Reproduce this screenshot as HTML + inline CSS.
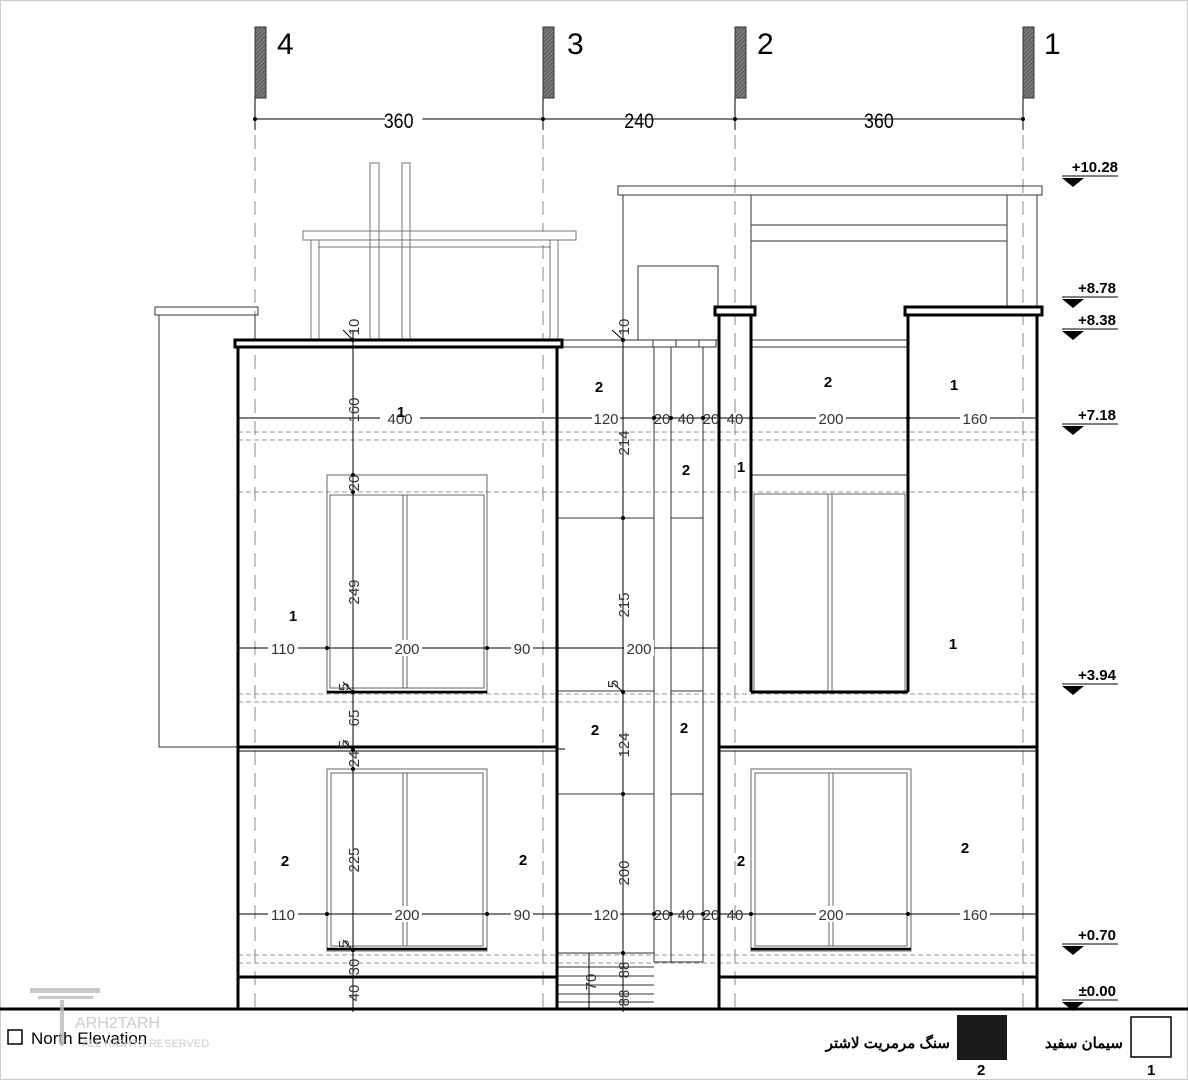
<!DOCTYPE html>
<html><head><meta charset="utf-8"><style>
body{margin:0;background:#fff}
svg{display:block}
text{font-family:"Liberation Sans",sans-serif}
.d{font-size:15px;fill:#333}
.n{font-size:15px;font-weight:bold;fill:#000}
.lv{font-size:15px;font-weight:bold;fill:#000}
</style></head><body>
<svg width="1188" height="1080" viewBox="0 0 1188 1080" xmlns="http://www.w3.org/2000/svg">
<defs>
<pattern id="h" width="3" height="3" patternUnits="userSpaceOnUse" patternTransform="rotate(45)"><rect width="3" height="3" fill="#777"/><line x1="0" y1="0" x2="0" y2="3" stroke="#444" stroke-width="1"/></pattern>
</defs>
<rect width="1188" height="1080" fill="#fff"/>
<rect x="0.5" y="0.5" width="1187" height="1079" fill="none" stroke="#ccc"/>
<g stroke="#333">
<rect x="255" y="27" width="11" height="71" fill="url(#h)"/>
<rect x="543" y="27" width="11" height="71" fill="url(#h)"/>
<rect x="735" y="27" width="11" height="71" fill="url(#h)"/>
<rect x="1023" y="27" width="11" height="71" fill="url(#h)"/>
</g>
<g font-size="30" fill="#000"><text x="277" y="54">4</text><text x="567" y="54">3</text><text x="757" y="54">2</text><text x="1044" y="54">1</text></g>
<g stroke="#000" stroke-width="1"><line x1="255" y1="119" x2="1023" y2="119"/>
<line x1="255" y1="98" x2="255" y2="130"/><line x1="543" y1="98" x2="543" y2="130"/><line x1="735" y1="98" x2="735" y2="130"/><line x1="1023" y1="98" x2="1023" y2="130"/></g>
<g fill="#000"><circle cx="255" cy="119" r="2"/><circle cx="543" cy="119" r="2"/><circle cx="735" cy="119" r="2"/><circle cx="1023" cy="119" r="2"/></g>
<g font-size="21" fill="#000" text-anchor="middle" transform="scale(0.85,1)">
<rect x="453" y="108" width="44" height="22" fill="#fff"/><text x="469" y="128">360</text>
<text x="752" y="128">240</text><text x="1034" y="128">360</text></g>
<g stroke="#888" stroke-dasharray="14,8" stroke-width="1">
<line x1="255" y1="135" x2="255" y2="1009"/><line x1="543" y1="135" x2="543" y2="1009"/><line x1="735" y1="135" x2="735" y2="1009"/><line x1="1023" y1="135" x2="1023" y2="1009"/></g>
<g stroke="#999" stroke-dasharray="5,3" stroke-width="1">
<line x1="238" y1="432" x2="1037" y2="432"/><line x1="238" y1="440" x2="1037" y2="440"/>
<line x1="238" y1="492" x2="1037" y2="492"/>
<line x1="238" y1="694" x2="1037" y2="694"/><line x1="238" y1="702" x2="1037" y2="702"/>
<line x1="238" y1="955" x2="1037" y2="955"/><line x1="238" y1="963" x2="1037" y2="963"/>
</g>
<g stroke="#777" fill="none" stroke-width="1">
<rect x="303" y="231" width="273" height="9" fill="#fff"/>
<line x1="318" y1="247" x2="551" y2="247"/>
<rect x="311" y="240" width="8" height="100"/><rect x="550" y="240" width="8" height="100"/>
<rect x="370" y="163" width="9" height="177"/><rect x="402" y="163" width="8" height="177"/>
</g>
<g stroke="#333" fill="none" stroke-width="1">
<rect x="155" y="307" width="103" height="8"/>
<polyline points="159,315 159,747 238,747"/><line x1="255" y1="315" x2="255" y2="340"/>
</g>
<g stroke="#333" fill="none" stroke-width="1">
<rect x="618" y="186" width="424" height="9"/>
<line x1="623" y1="195" x2="623" y2="340"/>
<rect x="638" y="266" width="80" height="74"/>
<line x1="751" y1="195" x2="751" y2="306"/><line x1="1007" y1="195" x2="1007" y2="306"/>
<line x1="751" y1="225" x2="1007" y2="225"/><line x1="751" y1="241" x2="1007" y2="241"/>
<line x1="1037" y1="195" x2="1037" y2="306"/>
</g>
<g stroke="#333" fill="none" stroke-width="1">
<rect x="557" y="340" width="159" height="7"/>
<line x1="653" y1="340" x2="653" y2="347"/><line x1="676" y1="340" x2="676" y2="347"/><line x1="699" y1="340" x2="699" y2="347"/>
<line x1="654" y1="347" x2="654" y2="962"/><line x1="671" y1="347" x2="671" y2="962"/><line x1="703" y1="347" x2="703" y2="962"/>
<line x1="654" y1="962" x2="703" y2="962"/>
<line x1="557" y1="518" x2="654" y2="518"/><line x1="671" y1="518" x2="703" y2="518"/>
<line x1="557" y1="691" x2="654" y2="691"/><line x1="671" y1="691" x2="703" y2="691"/>
<line x1="557" y1="794" x2="654" y2="794"/><line x1="671" y1="794" x2="703" y2="794"/>
<line x1="557" y1="953" x2="654" y2="953"/>
<line x1="557" y1="967" x2="654" y2="967"/><line x1="557" y1="976" x2="654" y2="976"/><line x1="557" y1="985" x2="654" y2="985"/><line x1="557" y1="994" x2="654" y2="994"/><line x1="557" y1="1002" x2="654" y2="1002"/>
<line x1="751" y1="340" x2="908" y2="340"/><line x1="751" y1="347" x2="908" y2="347"/>
<line x1="751" y1="475" x2="908" y2="475"/>
</g>
<g stroke="#666" fill="none" stroke-width="1">
<rect x="327" y="475" width="160" height="218"/><rect x="330" y="495" width="154" height="193"/>
<line x1="403" y1="495" x2="403" y2="688"/><line x1="407" y1="495" x2="407" y2="688"/>
<rect x="327" y="769" width="160" height="182"/><rect x="331" y="773" width="152" height="173"/>
<line x1="403" y1="773" x2="403" y2="946"/><line x1="407" y1="773" x2="407" y2="946"/>
<rect x="754" y="494" width="151" height="197"/>
<line x1="828" y1="494" x2="828" y2="691"/><line x1="832" y1="494" x2="832" y2="691"/>
<rect x="751" y="769" width="160" height="182"/><rect x="755" y="773" width="152" height="173"/>
<line x1="829" y1="773" x2="829" y2="946"/><line x1="833" y1="773" x2="833" y2="946"/>
</g>
<g stroke="#000" stroke-width="2.5"><line x1="327" y1="692" x2="487" y2="692"/><line x1="327" y1="949" x2="487" y2="949"/><line x1="751" y1="949" x2="911" y2="949"/></g>
<g stroke="#000" stroke-width="3" fill="none">
<rect x="235" y="340" width="327" height="7" fill="#fff"/>
<polyline points="238,347 238,1009"/><polyline points="557,347 557,1009"/>
<line x1="238" y1="747" x2="557" y2="747"/><line x1="238" y1="977" x2="557" y2="977"/>
<rect x="715" y="307" width="40" height="8" fill="#fff"/>
<line x1="719" y1="315" x2="719" y2="1009"/><line x1="751" y1="315" x2="751" y2="692"/>
<line x1="751" y1="692" x2="908" y2="692"/><line x1="908" y1="315" x2="908" y2="692"/>
<rect x="905" y="307" width="137" height="8" fill="#fff"/>
<line x1="1037" y1="315" x2="1037" y2="1009"/>
<line x1="719" y1="747" x2="1037" y2="747"/><line x1="719" y1="977" x2="1037" y2="977"/>
<line x1="0" y1="1009" x2="1188" y2="1009"/>
</g>
<g stroke="#000" stroke-width="1"><line x1="238" y1="751" x2="557" y2="751"/><line x1="719" y1="751" x2="1037" y2="751"/><line x1="557" y1="749" x2="565" y2="749"/></g>
<g stroke="#000" stroke-width="1">
<line x1="238" y1="418" x2="1037" y2="418"/>
<line x1="238" y1="648" x2="719" y2="648"/>
<line x1="238" y1="914" x2="1037" y2="914"/>
<line x1="353" y1="330" x2="353" y2="1012"/>
<line x1="623" y1="330" x2="623" y2="1012"/>
<line x1="589" y1="953" x2="589" y2="1009"/>
<line x1="343" y1="330" x2="353" y2="340"/><line x1="612" y1="330" x2="623" y2="340"/>
<line x1="343" y1="682" x2="353" y2="692"/><line x1="612" y1="682" x2="623" y2="692"/>
<line x1="343" y1="740" x2="353" y2="750"/><line x1="343" y1="940" x2="353" y2="950"/>
</g>
<g fill="#000">
<circle cx="353" cy="340" r="2"/><circle cx="353" cy="475" r="2"/><circle cx="353" cy="492" r="2"/><circle cx="353" cy="692" r="2"/><circle cx="353" cy="750" r="2"/><circle cx="353" cy="769" r="2"/><circle cx="353" cy="950" r="2"/>
<circle cx="623" cy="340" r="2"/><circle cx="623" cy="518" r="2"/><circle cx="623" cy="692" r="2"/><circle cx="623" cy="794" r="2"/><circle cx="623" cy="953" r="2"/>
<circle cx="327" cy="648" r="2"/><circle cx="487" cy="648" r="2"/><circle cx="557" cy="648" r="2"/>
<circle cx="327" cy="914" r="2"/><circle cx="487" cy="914" r="2"/><circle cx="557" cy="914" r="2"/><circle cx="654" cy="914" r="2"/><circle cx="671" cy="914" r="2"/><circle cx="703" cy="914" r="2"/><circle cx="751" cy="914" r="2"/><circle cx="829" cy="914" r="2"/><circle cx="908" cy="914" r="2"/>
<circle cx="654" cy="418" r="2"/><circle cx="671" cy="418" r="2"/><circle cx="703" cy="418" r="2"/><circle cx="751" cy="418" r="2"/><circle cx="908" cy="418" r="2"/>
</g>
<g class="d" text-anchor="middle">
<rect x="380" y="410" width="40" height="16" fill="#fff"/><text x="400" y="424">400</text>
<rect x="592" y="410" width="28" height="16" fill="#fff"/><text x="606" y="424">120</text>
<text x="662" y="424">20</text><text x="686" y="424">40</text><text x="711" y="424">20</text><text x="735" y="424">40</text>
<rect x="816" y="410" width="30" height="16" fill="#fff"/><text x="831" y="424">200</text>
<rect x="960" y="410" width="30" height="16" fill="#fff"/><text x="975" y="424">160</text>
<rect x="268" y="640" width="30" height="16" fill="#fff"/><text x="283" y="654">110</text>
<rect x="392" y="640" width="30" height="16" fill="#fff"/><text x="407" y="654">200</text>
<rect x="511" y="640" width="22" height="16" fill="#fff"/><text x="522" y="654">90</text>
<rect x="624" y="640" width="30" height="16" fill="#fff"/><text x="639" y="654">200</text>
<rect x="268" y="906" width="30" height="16" fill="#fff"/><text x="283" y="920">110</text>
<rect x="392" y="906" width="30" height="16" fill="#fff"/><text x="407" y="920">200</text>
<rect x="511" y="906" width="22" height="16" fill="#fff"/><text x="522" y="920">90</text>
<rect x="592" y="906" width="28" height="16" fill="#fff"/><text x="606" y="920">120</text>
<text x="662" y="920">20</text><text x="686" y="920">40</text><text x="711" y="920">20</text><text x="735" y="920">40</text>
<rect x="816" y="906" width="30" height="16" fill="#fff"/><text x="831" y="920">200</text>
<rect x="960" y="906" width="30" height="16" fill="#fff"/><text x="975" y="920">160</text>
</g>
<g class="d" text-anchor="middle">
<text transform="translate(359,327) rotate(-90)">10</text>
<text transform="translate(359,410) rotate(-90)">160</text>
<text transform="translate(359,483) rotate(-90)">20</text>
<text transform="translate(359,592) rotate(-90)">249</text>
<text transform="translate(359,718) rotate(-90)">65</text>
<text transform="translate(359,759) rotate(-90)">24</text>
<text transform="translate(359,860) rotate(-90)">225</text>
<text transform="translate(359,967) rotate(-90)">30</text>
<text transform="translate(359,993) rotate(-90)">40</text>
<text transform="translate(629,327) rotate(-90)">10</text>
<text transform="translate(629,443) rotate(-90)">214</text>
<text transform="translate(629,605) rotate(-90)">215</text>
<text transform="translate(629,745) rotate(-90)">124</text>
<text transform="translate(629,873) rotate(-90)">200</text>
<text transform="translate(596,982) rotate(-90)">70</text>
<text transform="translate(629,970) rotate(-90)">88</text>
<text transform="translate(629,998) rotate(-90)">88</text>
<text transform="translate(349,687) rotate(-90)">5</text>
<text transform="translate(618,684) rotate(-90)">5</text>
<text transform="translate(349,744) rotate(-90)">5</text>
<text transform="translate(349,944) rotate(-90)">5</text>
</g>
<g class="n" text-anchor="middle">
<text x="401" y="417">1</text><text x="599" y="392">2</text><text x="828" y="387">2</text><text x="954" y="390">1</text>
<text x="686" y="475">2</text><text x="741" y="472">1</text><text x="293" y="621">1</text><text x="953" y="649">1</text>
<text x="595" y="735">2</text><text x="684" y="733">2</text><text x="285" y="866">2</text><text x="523" y="865">2</text>
<text x="741" y="866">2</text><text x="965" y="853">2</text>
</g>
<g stroke="#000" stroke-width="1">
<line x1="1062" y1="176" x2="1118" y2="176"/><line x1="1062" y1="297" x2="1118" y2="297"/><line x1="1062" y1="329" x2="1118" y2="329"/><line x1="1062" y1="424" x2="1118" y2="424"/><line x1="1062" y1="684" x2="1118" y2="684"/><line x1="1062" y1="944" x2="1118" y2="944"/><line x1="1062" y1="1000" x2="1118" y2="1000"/>
</g>
<g fill="#000">
<path d="M1062,178 h22 l-11,9z"/><path d="M1062,299 h22 l-11,9z"/><path d="M1062,331 h22 l-11,9z"/><path d="M1062,426 h22 l-11,9z"/><path d="M1062,686 h22 l-11,9z"/><path d="M1062,946 h22 l-11,9z"/><path d="M1062,1002 h22 l-11,9z"/>
</g>
<g class="lv" text-anchor="end">
<text x="1118" y="172">+10.28</text><text x="1116" y="293">+8.78</text><text x="1116" y="325">+8.38</text><text x="1116" y="420">+7.18</text><text x="1116" y="680">+3.94</text><text x="1116" y="940">+0.70</text><text x="1116" y="996">±0.00</text>
</g>
<rect x="8" y="1030" width="14" height="14" fill="none" stroke="#000" stroke-width="1.5"/>
<text x="31" y="1044" font-size="17" fill="#000">North Elevation</text>
<g fill="#bbb" opacity="0.8"><rect x="30" y="988" width="70" height="5"/><rect x="38" y="996" width="55" height="3"/><rect x="60" y="1000" width="4" height="46"/></g>
<text x="75" y="1028" font-size="16" fill="#ccc">ARH2TARH</text>
<text x="82" y="1047" font-size="11" fill="#ccc">ALL RIGHTS RESERVED</text>
<text x="950" y="1048" text-anchor="end" font-size="15" font-weight="bold" fill="#000" font-family="'DejaVu Sans',sans-serif">سنگ مرمریت لاشتر</text>
<rect x="957" y="1015" width="50" height="45" fill="#1a1a1a"/>
<text x="977" y="1075" class="n">2</text>
<text x="1123" y="1048" text-anchor="end" font-size="15" font-weight="bold" fill="#000" font-family="'DejaVu Sans',sans-serif">سیمان سفید</text>
<rect x="1131" y="1017" width="40" height="40" fill="#fff" stroke="#000" stroke-width="1.5"/>
<text x="1147" y="1075" class="n">1</text>
</svg>
</body></html>
